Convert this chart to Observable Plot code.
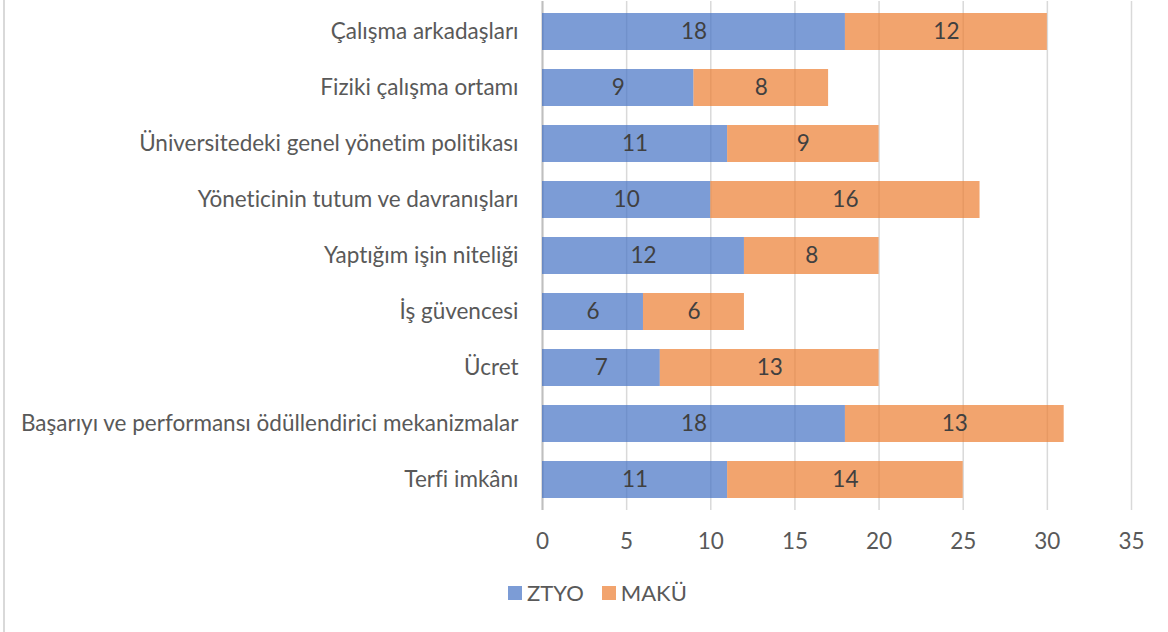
<!DOCTYPE html>
<html>
<head>
<meta charset="utf-8">
<script src="https://cdn.jsdelivr.net/npm/d3@7"></script>
<script src="https://cdn.jsdelivr.net/npm/@observablehq/plot@0.6"></script>
<style>
  html, body { margin: 0; padding: 0; background: #fff; }
  #wrap { position: relative; width: 1168px; height: 632px; font-family: Lato, "Open Sans", sans-serif; font-variant-ligatures: none; }
  #wrap svg text { font-variant-ligatures: none; }
  #border { position: absolute; left: 3px; top: 0; width: 2px; height: 632px; background: #d9d9d9; }
  #chart { position: absolute; left: 0; top: 0; }
  #legend { position: absolute; left: 508px; top: 579px; display: flex; align-items: center; font-size: 22px; color: #595959; line-height: 28px; }
  .sw { width: 14px; height: 14px; display: inline-block; margin-right: 5px; }
  .item { display: flex; align-items: center; margin-right: 18px; }
</style>
</head>
<body>
<div id="wrap"><div id="border"></div><div id="chart"></div><div id="legend"></div></div>
<script>
const categories = [
  "Çalışma arkadaşları",
  "Fiziki çalışma ortamı",
  "Üniversitedeki genel yönetim politikası",
  "Yöneticinin tutum ve davranışları",
  "Yaptığım işin niteliği",
  "İş güvencesi",
  "Ücret",
  "Başarıyı ve performansı ödüllendirici mekanizmalar",
  "Terfi imkânı"
];
const seriesNames = ["ZTYO", "MAKÜ"];
const ztyo = [18, 9, 11, 10, 12, 6, 7, 18, 11];
const maku = [12, 8, 9, 16, 8, 6, 13, 13, 14];
const xTicks = [0, 5, 10, 15, 20, 25, 30, 35];
const colors = ["#4472C4", "#ED7D31"];

const data = [];
categories.forEach((c, i) => {
  data.push({cat: c, series: seriesNames[0], value: ztyo[i]});
  data.push({cat: c, series: seriesNames[1], value: maku[i]});
});

const fontSize = 22.5;
const chart = Plot.plot({
  width: 1168,
  height: 560,
  marginLeft: 542,
  marginRight: 37,
  marginTop: 1,
  marginBottom: 50,
  style: {fontFamily: "Lato, 'Open Sans', sans-serif", fontSize: fontSize + "px", color: "#595959", background: "transparent"},
  x: {domain: [0, 35]},
  y: {domain: categories, paddingInner: 0.333, paddingOuter: 0.1667},
  color: {domain: seriesNames, range: colors},
  marks: [
    Plot.gridX(xTicks, {stroke: "#d9d9d9", strokeOpacity: 1, strokeWidth: 1.5}),
    Plot.ruleX([0], {stroke: "#bfbfbf", strokeWidth: 2}),
    Plot.barX(data, Plot.stackX({x: "value", y: "cat", fill: "series", fillOpacity: 0.7, order: seriesNames})),
    Plot.text(data, Plot.stackX({x: "value", y: "cat", z: "series", text: d => String(d.value), order: seriesNames, fill: "#404040", fontSize: fontSize})),
    Plot.axisX({ticks: xTicks, tickSize: 0, tickPadding: 23, label: null, fontSize: fontSize, fill: "#595959"}),
    Plot.axisY({tickSize: 0, tickPadding: 24, label: null, fontSize: fontSize, fill: "#595959"})
  ]
});
document.getElementById("chart").appendChild(chart);

const legend = document.getElementById("legend");
seriesNames.forEach((s, i) => {
  const item = document.createElement("div");
  item.className = "item";
  const sw = document.createElement("span");
  sw.className = "sw";
  sw.style.background = colors[i];
  sw.style.opacity = 0.7;
  const t = document.createElement("span");
  t.textContent = s;
  item.appendChild(sw);
  item.appendChild(t);
  legend.appendChild(item);
});
</script>
</body>
</html>
